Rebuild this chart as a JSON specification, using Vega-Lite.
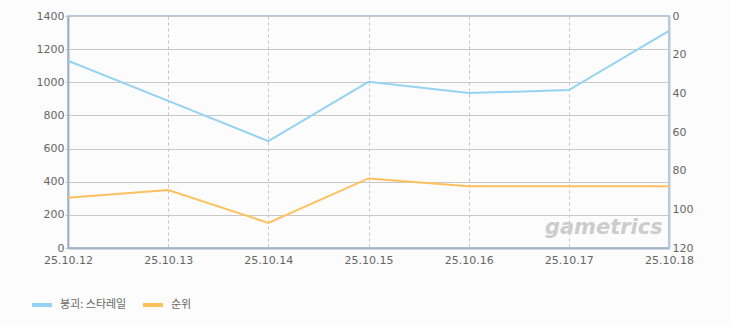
{
  "$schema": "https://vega.github.io/schema/vega-lite/v6.json",
  "width": 601,
  "height": 232,
  "autosize": {"type": "none"},
  "padding": {"left": 68, "top": 16, "right": 61, "bottom": 77},
  "background": "#fcfcfc",
  "config": {
    "view": {"stroke": "#b9c8da", "strokeWidth": 2, "fill": "#fcfcfc"},
    "font": "DejaVu Sans",
    "axis": {"labelFont": "DejaVu Sans", "labelFontSize": 11, "labelColor": "#666666"}
  },
  "data": {
    "values": [
      {"date": "25.10.12", "series": "붕괴: 스타레일", "value": 1130},
      {"date": "25.10.13", "series": "붕괴: 스타레일", "value": 888},
      {"date": "25.10.14", "series": "붕괴: 스타레일", "value": 645},
      {"date": "25.10.15", "series": "붕괴: 스타레일", "value": 1003},
      {"date": "25.10.16", "series": "붕괴: 스타레일", "value": 935},
      {"date": "25.10.17", "series": "붕괴: 스타레일", "value": 953},
      {"date": "25.10.18", "series": "붕괴: 스타레일", "value": 1310},
      {"date": "25.10.12", "series": "순위", "value": 94},
      {"date": "25.10.13", "series": "순위", "value": 90},
      {"date": "25.10.14", "series": "순위", "value": 107},
      {"date": "25.10.15", "series": "순위", "value": 84},
      {"date": "25.10.16", "series": "순위", "value": 88},
      {"date": "25.10.17", "series": "순위", "value": 88},
      {"date": "25.10.18", "series": "순위", "value": 88}
    ]
  },
  "encoding": {
    "x": {
      "field": "date",
      "type": "ordinal",
      "scale": {"type": "point", "padding": 0},
      "axis": {
        "title": null,
        "labelAngle": 0,
        "grid": true,
        "gridColor": "#c4c4c4",
        "gridDash": [3, 3],
        "domainColor": "#a3b3c7",
        "domainWidth": 2,
        "ticks": false,
        "labelPadding": 6
      }
    }
  },
  "layer": [
    {
      "transform": [{"filter": "datum.series == '붕괴: 스타레일'"}],
      "mark": {"type": "line", "strokeWidth": 2},
      "encoding": {
        "y": {
          "field": "value",
          "type": "quantitative",
          "scale": {"domain": [0, 1400], "nice": false},
          "axis": {
            "title": null,
            "orient": "left",
            "format": "d",
            "values": [0, 200, 400, 600, 800, 1000, 1200, 1400],
            "grid": true,
            "gridColor": "#c8c8c8",
            "domainColor": "#a3b3c7",
            "domainWidth": 2,
            "tickColor": "#c8c8c8",
            "tickSize": 3,
            "labelPadding": 1
          }
        },
        "color": {
          "field": "series",
          "type": "nominal",
          "scale": {"domain": ["붕괴: 스타레일", "순위"], "range": ["#96d3f2", "#ffc05e"]},
          "legend": {
            "title": null,
            "orient": "none",
            "legendX": -38,
            "legendY": 277,
            "direction": "horizontal",
            "symbolType": "stroke",
            "symbolStrokeWidth": 4,
            "symbolSize": 400,
            "labelFont": "Noto Sans CJK KR",
            "labelFontSize": 11,
            "labelColor": "#666666",
            "columnPadding": 8,
            "labelOffset": 6
          }
        }
      }
    },
    {
      "transform": [{"filter": "datum.series == '순위'"}],
      "mark": {"type": "line", "strokeWidth": 2},
      "encoding": {
        "y": {
          "field": "value",
          "type": "quantitative",
          "scale": {"domain": [0, 120], "reverse": true, "nice": false},
          "axis": {
            "title": null,
            "orient": "right",
            "values": [0, 20, 40, 60, 80, 100, 120],
            "grid": false,
            "domainColor": "#b9c8da",
            "domainWidth": 2,
            "ticks": false,
            "labelPadding": 3
          }
        },
        "color": {"field": "series", "type": "nominal"}
      }
    },
    {
      "data": {"values": [{"label": "gametrics"}]},
      "mark": {"type": "text", "fontSize": 21, "fontWeight": "bold", "fontStyle": "italic", "color": "#cccccc", "font": "DejaVu Sans", "dx": 35},
      "encoding": {
        "x": {"datum": "25.10.17"},
        "y": {"datum": 118, "scale": {"domain": [0, 1400], "nice": false}, "axis": null},
        "text": {"field": "label"}
      }
    }
  ],
  "resolve": {"scale": {"y": "independent"}}
}
